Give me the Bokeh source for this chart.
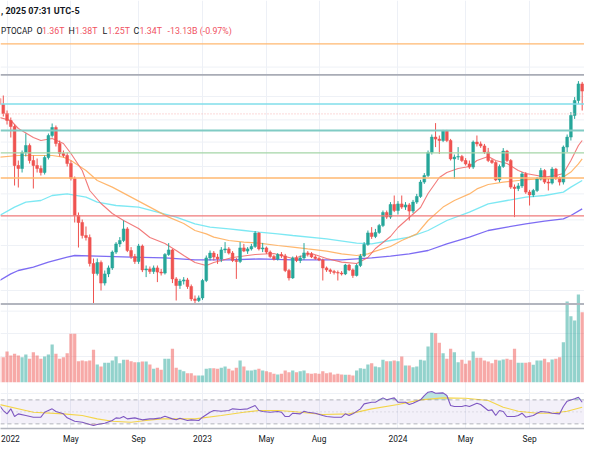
import numpy as np
from bokeh.plotting import figure
from bokeh.models import ColumnDataSource, Range1d, Span, BoxAnnotation, Label, FixedTicker
from bokeh.embed import file_html
from bokeh.resources import INLINE

# ---------------- data (weekly candles, values in billions) ----------------
start_date = "2021-12-20"
n_weeks = 156

open_ = [1510,1480,1435,1400,1370,1175,1160,1240,1275,1200,1175,1160,1140,1215,1325,1365,1285,1235,1225,1185,
         1110,925,890,825,815,685,635,690,587,633,663,742,783,800,858,750,720,695,772,653,
         658,645,663,642,637,730,753,608,575,597,603,570,508,500,513,600,713,737,717,708,
         753,758,737,700,695,763,747,758,770,837,758,763,742,720,707,730,723,650,613,713,
         700,713,738,733,718,710,703,663,653,645,640,637,633,677,653,625,675,723,780,838,
         820,840,875,940,917,980,950,983,967,978,947,992,1020,1092,1125,1240,1317,1307,1300,1347,
         1300,1208,1217,1220,1200,1183,1167,1292,1283,1273,1242,1200,1190,1103,1170,1247,1200,1067,1060,1073,
         1133,1042,1028,1050,1108,1150,1092,1087,1157,1113,1092,1267,1317,1425,1500,1583]
high = [1530,1525,1450,1415,1380,1200,1250,1335,1285,1225,1210,1175,1225,1335,1385,1375,1300,1250,1240,1200,
        1120,940,905,870,830,710,710,700,650,675,750,792,817,900,867,767,733,783,780,675,
        670,675,675,658,737,787,758,617,608,617,613,580,525,525,608,725,750,747,733,767,
        792,767,747,713,792,783,767,783,847,842,788,770,750,728,737,742,733,658,720,725,
        725,787,747,742,727,717,710,670,660,653,650,647,683,683,660,683,733,792,850,867,
        858,883,950,950,992,1025,997,1025,992,987,1003,1033,1103,1137,1250,1330,1387,1325,1353,1353,
        1308,1230,1267,1228,1212,1200,1300,1325,1295,1283,1263,1208,1197,1180,1262,1253,1207,1080,1087,1142,
        1142,1053,1058,1117,1163,1157,1108,1167,1163,1120,1275,1330,1442,1517,1597,1593]
low = [1470,1420,1380,1315,1075,1065,1140,1220,1185,1060,1140,1125,1130,1205,1315,1270,1220,1215,1170,1100,
       890,765,810,800,670,485,625,550,575,617,653,733,767,792,742,708,683,683,642,617,
       633,633,592,625,630,723,587,500,558,580,558,497,487,492,503,592,700,700,683,692,
       737,730,692,608,687,742,733,750,763,750,742,733,713,700,700,713,642,600,608,692,
       687,703,720,712,703,697,600,643,633,630,600,625,627,647,613,620,667,717,773,808,
       812,833,867,908,908,942,930,958,953,900,937,983,1013,1083,1117,1230,1267,1233,1292,1292,
       1200,1108,1203,1192,1175,1158,1158,1270,1263,1233,1192,1183,1097,1092,1163,1192,1058,917,1047,1063,
       1033,975,1017,1042,1100,1083,1050,1080,1103,1075,1080,1242,1300,1408,1483,1450]
close = [1480,1435,1400,1370,1175,1160,1240,1275,1200,1175,1160,1140,1215,1325,1365,1285,1235,1225,1185,1110,
         925,890,825,815,685,635,690,587,633,663,742,783,800,858,750,720,695,772,653,658,
         645,663,642,637,730,753,608,575,597,603,570,508,500,513,600,713,737,717,708,753,
         758,737,700,695,763,747,758,770,837,758,763,742,720,707,730,723,650,613,713,700,
         713,738,733,718,710,703,663,653,645,640,637,633,677,653,625,675,723,780,838,820,
         840,875,940,917,980,950,983,967,978,947,992,1020,1092,1125,1240,1317,1307,1300,1347,1300,
         1208,1217,1220,1200,1183,1167,1292,1283,1273,1242,1200,1190,1103,1170,1247,1200,1067,1060,1073,1133,
         1042,1028,1050,1108,1150,1092,1087,1157,1113,1092,1267,1317,1425,1500,1583,1547]
volume = [77,75,92,80,85,80,75,83,70,90,80,70,77,83,113,85,70,75,87,145,
          145,63,65,63,65,97,53,47,58,58,65,77,57,67,67,63,60,60,62,62,
          53,40,43,37,70,70,100,43,37,33,27,27,20,20,20,40,42,42,40,43,
          47,40,35,43,65,47,35,35,37,40,35,33,30,25,23,25,35,30,35,30,
          33,35,27,25,27,25,33,27,29,23,25,23,22,22,20,35,42,40,53,57,
          47,45,67,63,63,65,63,77,50,50,45,47,67,65,107,148,147,118,87,70,
          100,90,60,67,55,65,92,73,73,65,62,57,67,65,68,70,67,100,58,58,
          58,60,52,65,65,70,60,68,70,75,120,242,198,185,263,210]

# moving averages: (week index, value)
ma20_wk = [0,3,5,9,11,14,17,19,22,24,27,30,33,37,40,44,47,49,52,55,57,62,68,73,78,83,87,91,95,98,
           100,104,106,109,112,114,117,119,122,125,127,130,132,135,138,140,143,145,148,150,152,154,155]
ma20_val = [1415,1400,1360,1315,1300,1310,1285,1235,1150,1050,985,935,900,860,815,785,750,725,690,675,
            690,715,730,735,710,735,710,692,685,715,760,820,865,915,965,1035,1115,1140,1160,1170,
            1200,1220,1200,1185,1150,1135,1125,1117,1125,1135,1200,1275,1300]
ma50_wk = [0,5,11,14,17,19,23,26,30,35,40,45,49,52,55,57,61,65,69,74,78,82,87,91,95,98,100,104,107,111,
           114,118,121,125,127,130,134,138,143,147,150,152,154,155]
ma50_val = [1217,1225,1225,1225,1217,1200,1150,1100,1067,1017,967,917,885,850,833,817,800,792,787,775,
            767,758,747,733,725,733,747,770,800,833,900,967,1000,1033,1058,1080,1092,1100,1108,1108,
            1117,1142,1183,1208]
ma100_wk = [0,4,7,11,14,18,23,26,31,37,42,47,52,56,61,65,69,74,78,87,95,99,104,109,114,119,125,130,135,140,
            145,150,152,155]
ma100_val = [925,967,992,1000,1025,1033,1017,992,975,967,942,917,883,867,858,850,842,833,825,808,
             787,783,800,817,850,900,942,983,1000,1017,1025,1042,1067,1100]
ma200_wk = [0,3,5,9,13,18,20,26,35,44,52,61,69,78,91,95,99,104,109,114,119,125,130,135,140,145,150,152,155]
ma200_val = [600,633,650,667,692,717,725,722,717,713,703,703,708,703,703,708,713,722,733,750,
             783,817,850,867,883,897,908,925,958]

rsi_wk = [0,1,2,3,4,5,7,9,11,12,14,15,17,18,20,22,24,25,26,28,30,31,32,33,34,36,37,38,40,41,
          43,44,46,47,48,50,51,53,54,56,57,59,61,62,64,66,68,69,70,72,74,75,76,77,78,80,81,82,84,86,
          87,89,91,92,93,94,96,97,99,100,102,103,104,105,106,108,109,110,112,113,114,115,116,118,119,120,121,123,124,125,
          127,128,130,131,132,133,134,135,137,138,139,140,142,143,144,146,147,149,150,151,153,154,155]
rsi_val = [60.6,52.2,46.7,55.0,42.2,46.7,43.9,41.1,41.1,49.4,55.0,50.6,46.7,40.0,34.4,32.8,28.9,27.2,28.9,31.1,
           35.6,40.0,39.4,42.2,38.3,40.0,38.3,36.7,38.3,38.3,40.0,42.8,38.3,36.7,39.4,35.6,36.7,35.6,41.1,49.4,
           52.2,51.1,52.2,55.0,53.9,55.0,60.6,52.2,50.6,49.4,50.6,49.4,42.2,42.2,47.8,46.7,51.1,49.4,47.8,43.9,
           42.2,41.1,41.1,46.7,43.9,46.7,55.0,63.3,66.1,66.1,73.3,70.0,71.7,73.3,66.1,66.1,62.2,64.4,70.0,77.2,
           82.8,83.9,81.1,81.7,77.2,60.6,58.9,58.9,60.6,58.9,64.4,62.2,52.2,53.3,43.9,52.2,50.6,42.2,42.2,43.9,
           47.8,41.1,43.9,47.8,50.6,49.4,47.8,46.7,58.9,67.8,71.7,74.4,66.0]
rsima_wk = [0,9,17,22,26,30,35,39,43,52,59,65,69,74,78,86,93,99,106,112,118,124,130,134,138,143,147,151,155]
rsima_val = [62.2,49.4,46.7,43.9,38.3,34.4,32.8,35.6,38.3,38.3,43.9,49.4,52.2,52.2,50.6,45.6,46.7,55.0,62.2,70.0,
             73.3,72.8,68.9,57.8,51.1,47.8,47.8,51.1,57.8]

# horizontal levels drawn on the chart (billions)
levels = [(1783, "#FFB870", 1.3, "solid"), (1628, "#A9ACB6", 1.6, "solid"), (1483, "#80DEEA", 1.5, "solid"),
          (1433, "#F7B3B3", 1.0, "1 2"), (1350, "#80CBC4", 2.0, "solid"), (1238, "#A5D6A7", 1.4, "solid"),
          (1113, "#FFB870", 1.5, "solid"), (923, "#EF7A7A", 1.3, "solid"), (483, "#B2B5BE", 2.0, "solid")]

grid_wk = [2, 19, 37, 54, 71, 85, 106, 124, 141]          # month starts (grid lines)
tick_wk = [2.9, 19, 37, 54, 71, 85, 106, 124, 141]         # label anchors (first kept inside the pane)
tick_lab = ["2022", "May", "Sep", "2023", "May", "Aug", "2024", "May", "Sep"]

# ---------------- layout helpers (reference-screen geometry) ----------------
DAY = 86400000.0
t0 = float(np.datetime64(start_date, "ms").astype(np.int64))
def wk(k):
    return t0 + np.asarray(k, dtype=float) * 7 * DAY

PX_PER_WEEK = 3.862
W, H = 584, 457
XS = W / 600.0                   # horizontal squeeze of the 600px-wide reference
def hx(px):                      # reference screen x -> time
    return float(wk((px + 1) / PX_PER_WEEK))
def fx(fig_px):                  # figure pixel x -> time
    return hx(fig_px / XS)
def price_at(py): return 2000 - 5 * py
def vol_at(py): return 1145 - 3 * py
def rsi_at(py): return 735.6 - py / 0.6

FRAME_BOT = 428

UP, DOWN = "#26A69A", "#EF5350"
o = np.array(open_, float); c = np.array(close, float)
inc = c >= o
colors = [UP if u else DOWN for u in inc]
x = wk(np.arange(n_weeks))

src = ColumnDataSource(dict(x=x, o=o, h=high, l=low, c=c,
                            top=np.maximum(o, c), bot=np.minimum(o, c),
                            vol=volume, color=colors))

p = figure(width=W, height=H, x_axis_type="datetime", y_axis_location=None,
           toolbar_location=None, output_backend="svg",
           x_range=Range1d(hx(0), hx(600)), y_range=Range1d(price_at(FRAME_BOT), price_at(0)))
p.min_border_left = 0; p.min_border_right = 0; p.min_border_top = 0
p.min_border_bottom = H - FRAME_BOT
p.outline_line_color = None
p.background_fill_color = "white"; p.border_fill_color = "white"
p.extra_y_ranges = {"vol": Range1d(vol_at(FRAME_BOT), vol_at(0)), "rsi": Range1d(rsi_at(FRAME_BOT), rsi_at(0))}

ticks = [float(t) for t in wk(tick_wk)]
p.xaxis.ticker = FixedTicker(ticks=ticks)
p.xaxis.major_label_overrides = {t: lab for t, lab in zip(ticks, tick_lab)}
p.xaxis.minor_tick_line_color = None
p.xaxis.major_tick_line_color = None
p.xaxis.major_tick_out = 0; p.xaxis.major_tick_in = 0
p.xaxis.major_label_standoff = 5
p.xaxis.axis_line_color = "#B2B5BE"; p.xaxis.axis_line_width = 1.5
p.xaxis.major_label_text_font = "Roboto"
p.xaxis.major_label_text_font_size = "8.4px"
p.xaxis.major_label_text_color = "#131722"
p.xgrid.ticker = FixedTicker(ticks=[float(t) for t in wk(grid_wk)])
p.xgrid.grid_line_color = "#EDF0F6"
p.ygrid.visible = False

# faint horizontal grid
for b in [1667, 1520, 1403, 1292, 1170, 1033, 903, 775, 658, 550]:
    p.add_layout(Span(location=b, dimension="width", line_color="#EEF1F6", line_width=1, level="underlay"))
for v in [213, 146, 77, -34]:
    p.add_layout(Span(location=v, dimension="width", y_range_name="vol", line_color="#EEF1F6",
                      line_width=1, level="underlay"))

# RSI band
p.add_layout(BoxAnnotation(bottom=30, top=70, y_range_name="rsi", fill_color="#7E57C2", fill_alpha=0.09,
                           line_color=None, level="underlay"))
for lv, dash, a in [(70, "4 3", 0.55), (30, "4 3", 0.55), (50, "1 3", 0.35)]:
    p.add_layout(Span(location=lv, dimension="width", y_range_name="rsi", line_color="#787B86",
                      line_dash=dash, line_alpha=a, line_width=1))

# volume
p.vbar(x="x", width=6.0 * DAY, top="vol", bottom=0, source=src, y_range_name="vol",
       fill_color="color", line_color=None, fill_alpha=0.5)

# moving averages
p.line(wk(ma200_wk), ma200_val, line_color="#6F5CF2", line_width=1.3, line_alpha=0.9)
p.line(wk(ma100_wk), ma100_val, line_color="#6FE6F2", line_width=1.3, line_alpha=0.9)
p.line(wk(ma50_wk), ma50_val, line_color="#FFAA55", line_width=1.2, line_alpha=0.85)
p.line(wk(ma20_wk), ma20_val, line_color="#F06464", line_width=1.1, line_alpha=0.85)

# candles
p.segment(x0="x", y0="l", x1="x", y1="h", source=src, line_color="color", line_width=1)
p.vbar(x="x", width=5.2 * DAY, top="top", bottom="bot", source=src, fill_color="color", line_color="color",
       line_width=0.5)

# horizontal drawings
for lvl, col, lw, dash in levels:
    p.add_layout(Span(location=lvl, dimension="width", line_color=col, line_width=lw, line_dash=dash))

# RSI
rv = np.array(rsi_val)
rx = wk(rsi_wk)
p.varea(x=rx, y1=np.full_like(rv, 70.0), y2=np.maximum(rv, 70.0), y_range_name="rsi",
        fill_color="#26A69A", fill_alpha=0.3)
p.varea(x=rx, y1=np.minimum(rv, 30.0), y2=np.full_like(rv, 30.0), y_range_name="rsi",
        fill_color="#EF5350", fill_alpha=0.3)
p.line(wk(rsima_wk), rsima_val, y_range_name="rsi", line_color="#F4D549", line_width=1.1)
p.line(rx, rv, y_range_name="rsi", line_color="#7E57C2", line_width=1.1)

# header texts (figure-pixel anchors)
DARK, RED = "#131722", "#F0525F"
p.add_layout(Label(x=fx(0.5), y=price_at(10), text=", 2025 07:31 UTC-5", text_font="Roboto", text_font_size="9px",
                   text_color=DARK, text_baseline="middle", text_align="left", text_font_style="bold"))
parts = [(0.5, "PTOCAP", DARK, "8.2px"), (36, "O", DARK, "8.8px"), (41.5, "1.36T", RED, "8.8px"),
         (68, "H", DARK, "8.8px"), (74.5, "1.38T", RED, "8.8px"),
         (102, "L", DARK, "8.8px"), (107, "1.25T", RED, "8.8px"), (133, "C", DARK, "8.8px"),
         (139, "1.34T", RED, "8.8px"), (167, "-13.13B (-0.97%)", RED, "8.8px")]
for px, t, col, fs in parts:
    p.add_layout(Label(x=fx(px), y=price_at(30), text=t, text_font="Roboto", text_font_size=fs,
                       text_color=col, text_baseline="middle", text_align="left"))

open("out.html", "w").write(file_html(p, INLINE))
